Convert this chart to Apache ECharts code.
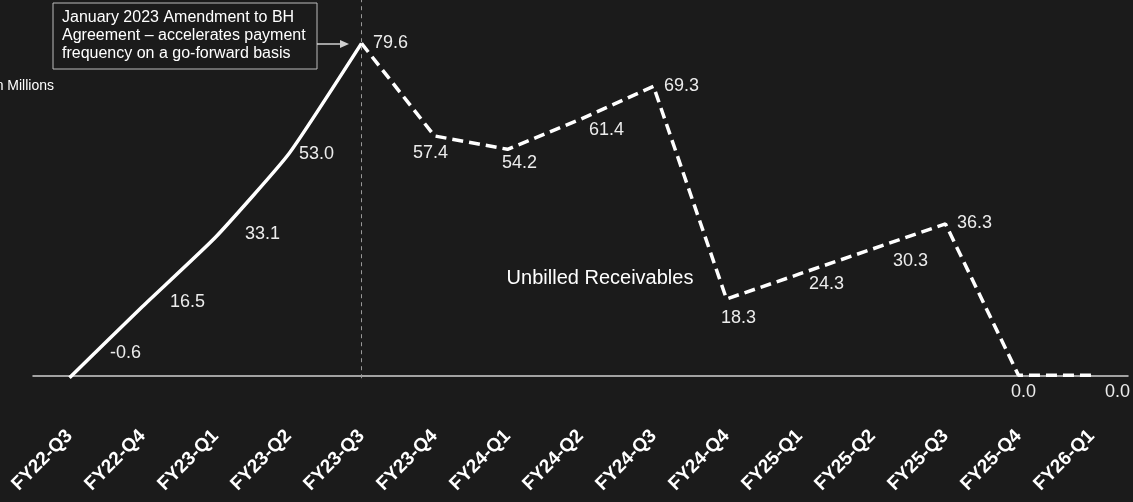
<!DOCTYPE html>
<html>
<head>
<meta charset="utf-8">
<title>Unbilled Receivables</title>
<script src="https://cdn.jsdelivr.net/npm/echarts@6/dist/echarts.min.js"></script>
<style>
  html, body { margin: 0; padding: 0; background: #1b1b1b; }
  #chart { width: 1133px; height: 502px; }
</style>
</head>
<body>
<div id="chart"></div>
<script>
// Quarterly unbilled receivables ($ in millions)
const quarters = ['FY22-Q3', 'FY22-Q4', 'FY23-Q1', 'FY23-Q2', 'FY23-Q3', 'FY23-Q4', 'FY24-Q1',
  'FY24-Q2', 'FY24-Q3', 'FY24-Q4', 'FY25-Q1', 'FY25-Q2', 'FY25-Q3', 'FY25-Q4', 'FY26-Q1'];
const receivables = [-0.6, 16.5, 33.1, 53.0, 79.6, 57.4, 54.2, 61.4, 69.3, 18.3, 24.3, 30.3, 36.3, 0.0, 0.0];
// Index of the quarter in which the BH amendment took effect
const amendmentIndex = 4;

// Where each value label sits relative to its point
const labelShift = [[56, -25], [45, -4], [47, -3], [28, 0], [29, 0], [-4, 17], [12, 14], [26, 11],
  [28, 0], [12, 19], [27, 10], [38, 12], [29, -1], [5, 17], [26, 17]];

const FONT = '"Liberation Sans", Arial, Helvetica, sans-serif';

function pointsFor(from, to) {
  return receivables.map((v, i) => {
    if (i < from || i > to) return null;
    const showLabel = (from === 0) ? true : i > from;
    return {
      value: v,
      label: { show: showLabel, offset: labelShift[i] }
    };
  });
}

const labelStyle = {
  position: 'inside',
  color: '#ececec',
  fontFamily: FONT,
  fontSize: 18,
  formatter: p => p.value.toFixed(1)
};

const chart = echarts.init(document.getElementById('chart'), null, { renderer: 'canvas' });

chart.setOption({
  backgroundColor: '#1b1b1b',
  animation: false,
  grid: { left: 33, right: 5, top: 0, height: 417, containLabel: false, outerBoundsMode: 'none' },
  xAxis: {
    type: 'category',
    data: quarters,
    boundaryGap: true,
    axisLine: { onZero: true, lineStyle: { color: '#cfcfcf', width: 1.5 } },
    axisTick: { show: false },
    axisLabel: {
      rotate: 45,
      margin: 16,
      interval: 0,
      color: '#ffffff',
      fontFamily: FONT,
      fontSize: 19,
      fontWeight: 'bold'
    },
    splitLine: { show: false }
  },
  yAxis: {
    type: 'value',
    min: -10,
    max: 90,
    show: false
  },
  series: [
    {
      name: 'Actual',
      type: 'line',
      data: pointsFor(0, amendmentIndex),
      smooth: 0.15,
      symbol: 'circle',
      symbolSize: 1,
      showSymbol: true,
      itemStyle: { color: 'rgba(0,0,0,0)' },
      lineStyle: { color: '#ffffff', width: 3.5 },
      label: labelStyle,
      z: 3,
      markLine: {
        silent: true,
        symbol: 'none',
        label: { show: false },
        lineStyle: { color: '#9a9a9a', width: 1, type: [4, 4] },
        data: [[
          { coord: [quarters[amendmentIndex], -0.7] },
          { coord: [quarters[amendmentIndex], 90] }
        ]]
      }
    },
    {
      name: 'Outlook',
      type: 'line',
      data: pointsFor(amendmentIndex, quarters.length - 1),
      symbol: 'circle',
      symbolSize: 1,
      showSymbol: true,
      itemStyle: { color: 'rgba(0,0,0,0)' },
      lineStyle: { color: '#ffffff', width: 3.5, type: [11, 6] },
      label: labelStyle,
      z: 3
    }
  ],
  graphic: [
    {
      type: 'rect',
      shape: { x: 53, y: 3, width: 264, height: 66 },
      style: { fill: '#1b1b1b', stroke: '#bdbdbd', lineWidth: 1 },
      z: 10
    },
    {
      type: 'text',
      x: 62, y: 9,
      style: {
        text: 'January 2023 Amendment to BH\nAgreement – accelerates payment\nfrequency on a go-forward basis',
        fill: '#ffffff',
        font: '16px ' + FONT,
        lineHeight: 18
      },
      z: 11
    },
    {
      type: 'line',
      shape: { x1: 317, y1: 44, x2: 341, y2: 44 },
      style: { stroke: '#d0d0d0', lineWidth: 1.5 },
      z: 10
    },
    {
      type: 'polygon',
      shape: { points: [[349, 44], [340, 40], [340, 48]] },
      style: { fill: '#d0d0d0' },
      z: 10
    },
    {
      type: 'text',
      x: 54, y: 86,
      style: {
        text: '$ in Millions',
        fill: '#ffffff',
        font: '14px ' + FONT,
        align: 'right',
        verticalAlign: 'middle'
      }
    },
    {
      type: 'text',
      x: 600, y: 278,
      style: {
        text: 'Unbilled Receivables',
        fill: '#ffffff',
        font: '20px ' + FONT,
        align: 'center',
        verticalAlign: 'middle'
      }
    }
  ]
});
</script>
</body>
</html>
